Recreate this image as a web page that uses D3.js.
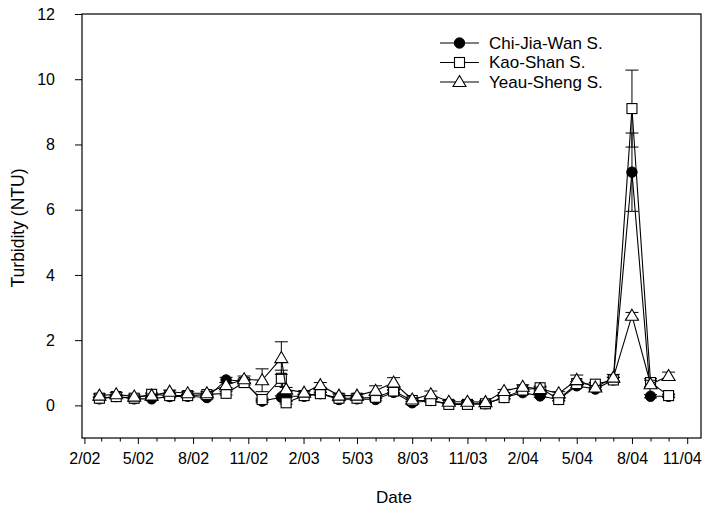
<!DOCTYPE html>
<html><head><meta charset="utf-8">
<script src="https://cdn.jsdelivr.net/npm/d3@7"></script>
<style>body{margin:0;background:#fff}svg{display:block}</style>
</head><body>
<svg id="chart" width="703" height="508"></svg>
<script>
const dates = ["2002-02-26","2002-03-26","2002-04-25","2002-05-24","2002-06-23","2002-07-23","2002-08-24","2002-09-25","2002-10-25","2002-11-24","2002-12-26","2003-01-03","2003-02-02","2003-03-01","2003-04-01","2003-05-01","2003-06-01","2003-07-01","2003-08-01","2003-09-01","2003-10-01","2003-11-01","2003-12-01","2004-01-01","2004-02-01","2004-03-01","2004-04-01","2004-05-01","2004-06-01","2004-07-01","2004-08-01","2004-09-01","2004-10-01"];
const chiJiaWan = [0.2,0.27,0.2,0.2,0.27,0.28,0.24,0.78,0.75,0.13,0.25,0.28,0.28,0.36,0.18,0.2,0.18,0.4,0.08,0.15,0.05,0.05,0.05,0.24,0.39,0.29,0.18,0.6,0.5,0.78,7.15,0.28,0.28];
const kaoShan   = [0.22,0.27,0.22,0.34,0.3,0.3,0.33,0.37,0.7,0.18,0.83,0.08,0.3,0.36,0.22,0.22,0.25,0.44,0.15,0.15,0.03,0.03,0.05,0.24,0.47,0.54,0.18,0.67,0.65,0.78,9.1,0.7,0.3];
const yeauSheng = [0.3,0.34,0.27,0.3,0.42,0.37,0.37,0.62,0.8,0.77,1.45,0.49,0.39,0.62,0.3,0.3,0.45,0.7,0.18,0.34,0.11,0.11,0.1,0.44,0.57,0.5,0.37,0.78,0.55,0.85,2.75,0.65,0.9];
const errChi   = [0.04,0.04,0.04,0.04,0.04,0.04,0.04,0.08,0.06,0.04,0.04,0.04,0.04,0.04,0.04,0.04,0.04,0.05,0.04,0.04,0.03,0.03,0.03,0.04,0.05,0.04,0.04,0.05,0.05,0.08,1.2,0.05,0.04];
const errKao   = [0.04,0.04,0.04,0.04,0.04,0.04,0.04,0.05,0.08,0.04,0.25,0.04,0.04,0.05,0.04,0.04,0.04,0.05,0.04,0.04,0.03,0.03,0.03,0.04,0.05,0.05,0.04,0.06,0.05,0.08,1.18,0.12,0.05];
const errYeau  = [0.05,0.05,0.05,0.05,0.05,0.05,0.05,0.08,0.1,0.35,0.5,0.06,0.05,0.08,0.05,0.05,0.15,0.15,0.05,0.1,0.04,0.04,0.04,0.05,0.06,0.06,0.05,0.15,0.06,0.1,0.1,0.12,0.12];
const seriesNames = ["Chi-Jia-Wan S.","Kao-Shan S.","Yeau-Sheng S."];
const yTicks = [0,2,4,6,8,10,12];
const xLabelMonths = [1,4,7,10]; // Feb, May, Aug, Nov (0-based)

const parse = d3.timeParse("%Y-%m-%d");
const dts = dates.map(parse);
const svg = d3.select("#chart");
const L = 82, R = 701, T = 14, B = 438;
const x = d3.scaleTime().domain([new Date(2002,0,28), new Date(2004,10,24)]).range([L, R]);
const y = d3.scaleLinear().domain([-1, 12]).range([B, T]);
const font = "Arial, 'Liberation Sans', sans-serif";

// frame
svg.append("rect").attr("x", L).attr("y", T).attr("width", R - L).attr("height", B - T)
  .attr("fill", "none").attr("stroke", "#000").attr("stroke-width", 1.2);

// y axis
const yAxis = svg.append("g").attr("transform", `translate(${L},0)`)
  .call(d3.axisLeft(y).tickValues(yTicks).tickSize(7).tickPadding(20).tickFormat(d3.format("d")));
yAxis.select(".domain").remove();
yAxis.selectAll("text").attr("font-family", font).attr("font-size", 16).attr("fill", "#000");

// x axis
const months = d3.timeMonth.range(new Date(2002,1,1), new Date(2004,10,2));
const xAxis = svg.append("g").attr("transform", `translate(0,${B})`)
  .call(d3.axisBottom(x).tickValues(months).tickSize(4).tickPadding(8)
    .tickFormat(d => xLabelMonths.includes(d.getMonth()) ? d3.timeFormat("%-m/%y")(d) : ""));
xAxis.select(".domain").remove();
xAxis.selectAll(".tick line").attr("y2", d => xLabelMonths.includes(d.getMonth()) ? 6 : 3.5);
xAxis.selectAll("text").attr("font-family", font).attr("font-size", 16).attr("fill", "#000").attr("dy", "0.9em");
xAxis.selectAll(".tick").filter((d, i, n) => i === n.length - 1).select("text").attr("text-anchor", "end").attr("dx", "14");

// titles
svg.append("text").attr("x", 394).attr("y", 503).attr("text-anchor", "middle")
  .attr("font-family", font).attr("font-size", 17).text("Date");
svg.append("text").attr("transform", "translate(24,228) rotate(-90)").attr("text-anchor", "middle")
  .attr("font-family", font).attr("font-size", 17.5).text("Turbidity (NTU)");

const triPath = "M0,-6.5L6.5,4.5L-6.5,4.5Z";
function drawMarker(g, type, cx, cy) {
  if (type === 0) g.append("circle").attr("cx", cx).attr("cy", cy).attr("r", 5.2).attr("fill", "#000").attr("stroke", "#000");
  else if (type === 1) g.append("rect").attr("x", cx - 5).attr("y", cy - 5).attr("width", 10).attr("height", 10).attr("fill", "#fff").attr("stroke", "#000").attr("stroke-width", 1.1);
  else g.append("path").attr("d", triPath).attr("transform", `translate(${cx},${cy})`).attr("fill", "#fff").attr("stroke", "#000").attr("stroke-width", 1.1);
}

const all = [[chiJiaWan, errChi], [kaoShan, errKao], [yeauSheng, errYeau]];
const line = d3.line().x(d => x(d[0])).y(d => y(d[1]));
all.forEach(([vals, errs], si) => {
  const g = svg.append("g");
  const pts = dts.map((d, i) => [d, vals[i]]);
  pts.forEach((p, i) => {
    const cx = x(p[0]), e = errs[i];
    const y1 = y(p[1] + e), y2 = y(p[1] - e);
    g.append("line").attr("x1", cx).attr("x2", cx).attr("y1", y1).attr("y2", y2).attr("stroke", "#000");
    [y1, y2].forEach(yy => g.append("line").attr("x1", cx - 6.5).attr("x2", cx + 6.5).attr("y1", yy).attr("y2", yy).attr("stroke", "#000"));
  });
  g.append("path").datum(pts).attr("d", line).attr("fill", "none").attr("stroke", "#000").attr("stroke-width", 1.1);
  pts.forEach(p => drawMarker(g, si, x(p[0]), y(p[1])));
});

// legend
const legY = [43, 62.5, 82];
seriesNames.forEach((name, i) => {
  const g = svg.append("g");
  g.append("line").attr("x1", 440).attr("x2", 479).attr("y1", legY[i]).attr("y2", legY[i]).attr("stroke", "#000").attr("stroke-width", 1.1);
  drawMarker(g, i, 459.5, legY[i]);
  g.append("text").attr("x", 489).attr("y", legY[i]).attr("dy", "0.35em")
    .attr("font-family", font).attr("font-size", 17).text(name);
});
</script>
</body></html>
